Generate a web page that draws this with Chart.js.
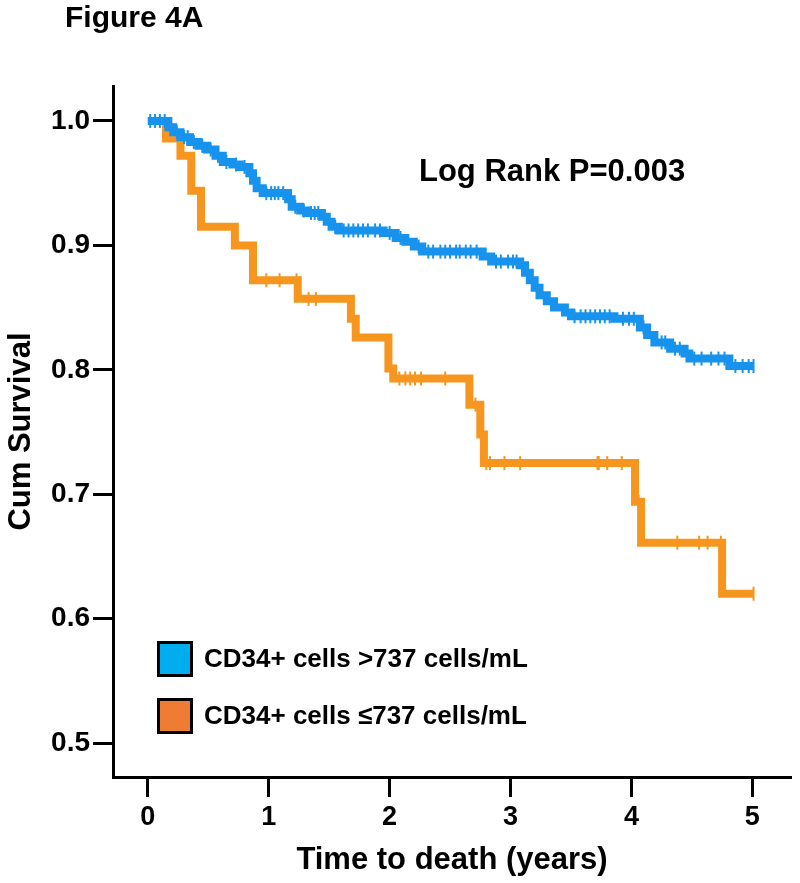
<!DOCTYPE html>
<html>
<head>
<meta charset="utf-8">
<script src="https://cdn.jsdelivr.net/npm/chart.js@4"></script>
<style>
  html, body { margin: 0; padding: 0; background: #fff; }
</style>
</head>
<body>
<canvas id="km" width="800" height="883"></canvas>
<script>
// Kaplan-Meier step points (time in years, cumulative survival)
const highT = [0, 0.17, 0.21, 0.27, 0.35, 0.42, 0.49, 0.56, 0.62, 0.70, 0.76, 0.84, 0.87, 0.90, 0.95, 1.16, 1.19, 1.26, 1.31, 1.44, 1.48, 1.52, 1.58, 1.95, 2.05, 2.13, 2.20, 2.27, 2.77, 2.84, 3.08, 3.12, 3.16, 3.20, 3.24, 3.30, 3.36, 3.45, 3.50, 3.86, 4.07, 4.13, 4.19, 4.32, 4.44, 4.48, 4.81, 5.01];
const highS = [1.000, 0.995, 0.991, 0.987, 0.983, 0.980, 0.977, 0.972, 0.967, 0.965, 0.963, 0.958, 0.952, 0.946, 0.942, 0.937, 0.931, 0.928, 0.926, 0.923, 0.919, 0.915, 0.912, 0.910, 0.906, 0.903, 0.899, 0.895, 0.891, 0.887, 0.884, 0.878, 0.872, 0.866, 0.860, 0.855, 0.850, 0.846, 0.843, 0.841, 0.834, 0.828, 0.822, 0.817, 0.813, 0.809, 0.803, 0.803];
const highCensorT = [0.02, 0.06, 0.10, 0.14, 0.19, 0.24, 0.30, 0.33, 0.38, 0.45, 0.52, 0.58, 0.65, 0.73, 0.80, 0.98, 1.02, 1.05, 1.08, 1.12, 1.22, 1.29, 1.35, 1.38, 1.41, 1.55, 1.62, 1.66, 1.70, 1.74, 1.78, 1.82, 1.88, 1.92, 2.00, 2.09, 2.24, 2.32, 2.36, 2.42, 2.46, 2.50, 2.55, 2.58, 2.63, 2.67, 2.72, 2.88, 2.92, 2.98, 3.02, 3.05, 3.53, 3.58, 3.62, 3.66, 3.70, 3.74, 3.78, 3.82, 3.93, 3.98, 4.02, 4.10, 4.25, 4.28, 4.36, 4.40, 4.52, 4.58, 4.66, 4.72, 4.77, 4.86, 4.92, 4.97, 5.01];

const lowT = [0, 0.15, 0.27, 0.36, 0.44, 0.72, 0.87, 1.24, 1.68, 1.72, 1.99, 2.03, 2.66, 2.75, 2.78, 4.03, 4.08, 4.75, 5.01];
const lowS = [1.000, 0.986, 0.972, 0.944, 0.915, 0.900, 0.872, 0.857, 0.841, 0.826, 0.801, 0.793, 0.772, 0.748, 0.725, 0.694, 0.661, 0.620, 0.620];
const lowCensorT = [0.98, 1.09, 1.23, 1.33, 1.39, 2.08, 2.13, 2.17, 2.21, 2.26, 2.46, 2.71, 2.77, 2.80, 2.83, 2.95, 3.08, 3.72, 3.73, 3.80, 3.92, 4.06, 4.38, 4.56, 4.63, 4.74, 5.01];

const xTicks = [0, 1, 2, 3, 4, 5];
const yTicks = [0.5, 0.6, 0.7, 0.8, 0.9, 1.0];
const groupLabels = ['CD34+ cells >737 cells/mL', 'CD34+ cells \u2264737 cells/mL'];
const figureTitle = 'Figure 4A';
const pText = 'Log Rank P=0.003';

const FONT = '"Liberation Sans", Arial, Helvetica, sans-serif';
const lineBlue = '#1793ee', lineOrange = '#f7961e';
const boxBlue = '#00aeef', boxOrange = '#ee7d33';

// value of the step curve at time t (used to sit the censor ticks on the line)
function survAt(T, S, t) {
  let s = S[0];
  for (let i = 0; i < T.length; i++) { if (T[i] <= t) s = S[i]; }
  return s;
}
const pts = (T, S) => T.map((t, i) => ({x: t, y: S[i]}));
const censorPts = (C, T, S) => C.map(t => ({x: t, y: survAt(T, S, t)}));

const textPlugin = {
  id: 'figText',
  afterDraw(chart) {
    const ctx = chart.ctx;
    ctx.save();
    ctx.fillStyle = '#000';
    ctx.textBaseline = 'alphabetic';
    ctx.font = 'bold 30px ' + FONT;
    ctx.fillText(figureTitle, 65, 27);
    ctx.textBaseline = 'middle';
    ctx.font = 'bold 31px ' + FONT;
    ctx.fillText(pText, 419, 172);
    // legend
    const boxes = [boxBlue, boxOrange];
    groupLabels.forEach((lab, i) => {
      const y = 641 + i * 57;
      ctx.fillStyle = boxes[i];
      ctx.fillRect(157, y, 36, 36);
      ctx.lineWidth = 3;
      ctx.strokeStyle = '#000';
      ctx.strokeRect(158.5, y + 1.5, 33, 33);
      ctx.fillStyle = '#000';
      ctx.font = 'bold 26px ' + FONT;
      ctx.fillText(lab, 204, y + 19);
    });
    ctx.restore();
  }
};

new Chart(document.getElementById('km'), {
  data: {
    datasets: [
      {type: 'scatter', data: censorPts(highCensorT, highT, highS), pointStyle: 'line', rotation: 90, pointRadius: 7, borderWidth: 2, borderColor: lineBlue, backgroundColor: lineBlue, order: 0},
      {type: 'line', label: groupLabels[0], data: pts(highT, highS), stepped: 'before', borderColor: lineBlue, borderWidth: 8, pointRadius: 0, fill: false, order: 1},
      {type: 'scatter', data: censorPts(lowCensorT, lowT, lowS), pointStyle: 'line', rotation: 90, pointRadius: 7, borderWidth: 2, borderColor: lineOrange, backgroundColor: lineOrange, order: 2},
      {type: 'line', label: groupLabels[1], data: pts(lowT, lowS), stepped: 'before', borderColor: lineOrange, borderWidth: 8, pointRadius: 0, fill: false, order: 3}
    ]
  },
  options: {
    responsive: false,
    animation: false,
    devicePixelRatio: 1,
    layout: {padding: {top: 86, right: 5, left: 0, bottom: 0}},
    plugins: {legend: {display: false}, tooltip: {enabled: false}},
    scales: {
      x: {
        type: 'linear', min: -0.288, max: 5.32,
        afterBuildTicks: s => { s.ticks = xTicks.map(v => ({value: v})); },
        afterFit: s => { s.height = 106; },
        grid: {drawOnChartArea: false, drawTicks: true, tickLength: 20, tickWidth: 3, tickColor: '#000'},
        border: {display: true, color: '#000', width: 3},
        ticks: {color: '#000', font: {family: FONT, size: 27, weight: 'bold'}, padding: 4, maxRotation: 0, autoSkip: false},
        title: {display: true, text: 'Time to death (years)', color: '#000', font: {family: FONT, size: 31, weight: 'bold'}, padding: {top: 0, bottom: 4}}
      },
      y: {
        type: 'linear', min: 0.4727, max: 1.0281,
        afterBuildTicks: s => { s.ticks = yTicks.map(v => ({value: v})); },
        afterFit: s => { s.width = 113; },
        grid: {drawOnChartArea: false, drawTicks: true, tickLength: 20, tickWidth: 3, tickColor: '#000'},
        border: {display: true, color: '#000', width: 3},
        ticks: {color: '#000', font: {family: FONT, size: 28, weight: 'bold'}, padding: 3, callback: v => v.toFixed(1)},
        title: {display: true, text: 'Cum Survival', color: '#000', font: {family: FONT, size: 31, weight: 'bold'}, padding: {top: 3, bottom: 0}}
      }
    }
  },
  plugins: [textPlugin]
});
</script>
</body>
</html>
